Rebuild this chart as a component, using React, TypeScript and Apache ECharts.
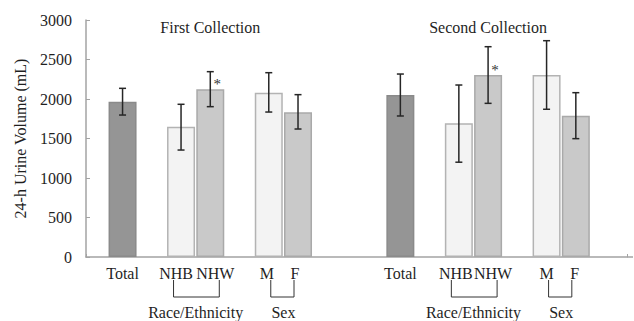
import React, { useEffect, useRef } from "react";
import * as echarts from "echarts";

const FONT = "'Liberation Serif', 'Times New Roman', Times, serif";
const TEXT = "#1f1f1f";

const collections = ["First Collection", "Second Collection"];
const groupLabels = ["Total", "NHB", "NHW", "M", "F"];
const firstValues = [1966, 1650, 2122, 2080, 1831];
const firstLow = [1797, 1354, 1903, 1835, 1620];
const firstHigh = [2135, 1933, 2346, 2333, 2055];
const secondValues = [2051, 1692, 2304, 2304, 1789];
const secondLow = [1785, 1200, 1945, 1870, 1498];
const secondHigh = [2316, 2177, 2662, 2738, 2080];
const significant = [false, false, true, false, false];
const bracketLabels = ["Race/Ethnicity", "Sex"];
const yTicks = { min: 0, max: 3000, interval: 500 };

// layout: slot index of each bar on the half-width category axis
const SLOT_COUNT = 37;
const groupSlots = [
  [2, 6, 8, 12, 14],
  [21, 25, 27, 31, 33],
];
const labelShift = [
  [0, -5, 5, -2, -3],
  [0, -3, 5, 0, -1],
];

const fills = ["#959595", "#f3f3f3", "#c9c9c9", "#f3f3f3", "#c9c9c9"];
const borders = ["#8a8a8a", "#b3b3b3", "#a9a9a9", "#b3b3b3", "#a9a9a9"];

export default function App() {
  const ref = useRef<HTMLDivElement>(null);
  useEffect(() => {
    if (!ref.current) return;
    const chart = echarts.init(ref.current, null, { renderer: "svg" });

    const values = [firstValues, secondValues];
    const lows = [firstLow, secondLow];
    const highs = [firstHigh, secondHigh];

    const catData: any[] = [];
    const labelOf: string[] = [];
    for (let i = 0; i < SLOT_COUNT; i++) {
      catData.push({ value: "c" + i });
      labelOf.push("");
    }
    const barData: any[] = new Array(SLOT_COUNT).fill(null);
    const errData: any[] = [];
    groupSlots.forEach((slots, g) => {
      slots.forEach((s, k) => {
        labelOf[s] = groupLabels[k];
        const sh = labelShift[g][k];
        catData[s] = {
          value: "c" + s,
          textStyle: {
            padding: sh >= 0 ? [0, 0, 0, 2 * sh] : [0, -2 * sh, 0, 0],
          },
        };
        barData[s] = {
          value: values[g][k],
          itemStyle: { color: fills[k], borderColor: borders[k], borderWidth: 1.5 },
        };
        errData.push([s, lows[g][k], highs[g][k], values[g][k], significant[k] ? 1 : 0]);
      });
    });

    const option: any = {
      animation: false,
      grid: { left: 86, right: 7, top: 20, bottom: 64 },
      xAxis: {
        type: "category",
        data: catData,
        boundaryGap: true,
        axisLine: { lineStyle: { color: "#a3a3a3", width: 1.5 } },
        axisTick: {
          show: true,
          inside: true,
          length: 3,
          interval: (i: number) => i === 19,
          lineStyle: { color: "#a3a3a3" },
        },
        axisLabel: {
          interval: 0,
          margin: 8,
          fontFamily: FONT,
          fontSize: 16,
          color: TEXT,
          formatter: (_v: string, i: number) => labelOf[i],
        },
        splitLine: { show: false },
      },
      yAxis: {
        type: "value",
        min: yTicks.min,
        max: yTicks.max,
        interval: yTicks.interval,
        name: "24-h Urine Volume (mL)",
        nameLocation: "middle",
        nameGap: 58,
        nameTextStyle: { fontFamily: FONT, fontSize: 16, color: TEXT },
        axisLine: { show: true, lineStyle: { color: "#a3a3a3", width: 1.5 } },
        axisTick: { show: true, inside: true, length: 4, lineStyle: { color: "#a3a3a3" } },
        axisLabel: {
          margin: 14,
          fontFamily: FONT,
          fontSize: 16,
          color: TEXT,
          formatter: (v: number) => String(v),
        },
        splitLine: { show: false },
      },
      series: [
        {
          type: "bar",
          data: barData,
          barWidth: 28,
          z: 2,
        },
        {
          type: "custom",
          z: 5,
          clip: false,
          encode: { x: 0, y: [1, 2] },
          data: errData,
          renderItem: (_p: any, api: any) => {
            const x = api.value(0);
            const lo = api.coord([x, api.value(1)]);
            const hi = api.coord([x, api.value(2)]);
            const top = api.coord([x, api.value(3)]);
            const cap = 3.5;
            const st = { stroke: "#262626", lineWidth: 1.5 };
            const children: any[] = [
              { type: "line", shape: { x1: lo[0], y1: lo[1], x2: hi[0], y2: hi[1] }, style: st },
              { type: "line", shape: { x1: hi[0] - cap, y1: hi[1], x2: hi[0] + cap, y2: hi[1] }, style: st },
              { type: "line", shape: { x1: lo[0] - cap, y1: lo[1], x2: lo[0] + cap, y2: lo[1] }, style: st },
            ];
            if (api.value(4) === 1) {
              children.push({
                type: "text",
                x: top[0] + 7,
                y: top[1] - 5,
                style: {
                  text: "*",
                  fontFamily: FONT,
                  fontSize: 15,
                  fill: "#333",
                  align: "center",
                  verticalAlign: "middle",
                },
              });
            }
            return { type: "group", children };
          },
        },
      ],
    };
    chart.setOption(option);

    const px = (slot: number) =>
      (chart.convertToPixel({ xAxisIndex: 0, yAxisIndex: 0 }, [slot, 0]) as number[]);
    const graphics: any[] = [];
    const axisY = px(0)[1];
    graphics.push({
      type: "line",
      shape: { x1: 634 - 7, y1: axisY, x2: 633, y2: axisY },
      style: { stroke: "#a3a3a3", lineWidth: 1.5 },
    });
    groupSlots.forEach((slots, g) => {
      const xs = slots.map((s) => px(s)[0]);
      graphics.push({
        type: "text",
        x: (xs[0] + xs[4]) / 2,
        y: 27,
        style: {
          text: collections[g],
          fontFamily: FONT,
          fontSize: 16,
          fill: TEXT,
          align: "center",
          verticalAlign: "middle",
        },
      });
      const pairs = [
        [xs[1] - 7.5, xs[2] + 9],
        [xs[3] + 2, xs[4] - 4],
      ];
      const mids = [(xs[1] + xs[2]) / 2, (xs[3] + xs[4]) / 2];
      pairs.forEach((p, b) => {
        graphics.push({
          type: "polyline",
          shape: { points: [[p[0], 280], [p[0], 297], [p[1], 297], [p[1], 280]] },
          style: { stroke: "#333", lineWidth: 1, fill: "none" },
        });
        graphics.push({
          type: "text",
          x: mids[b],
          y: 312,
          style: {
            text: bracketLabels[b],
            fontFamily: FONT,
            fontSize: 16,
            fill: TEXT,
            align: "center",
            verticalAlign: "middle",
          },
        });
      });
    });
    chart.setOption({ graphic: graphics });

    return () => chart.dispose();
  }, []);
  return (
    <div
      ref={ref}
      style={{ position: "absolute", left: 0, top: 0, width: 634, height: 321, background: "#fff" }}
    />
  );
}
